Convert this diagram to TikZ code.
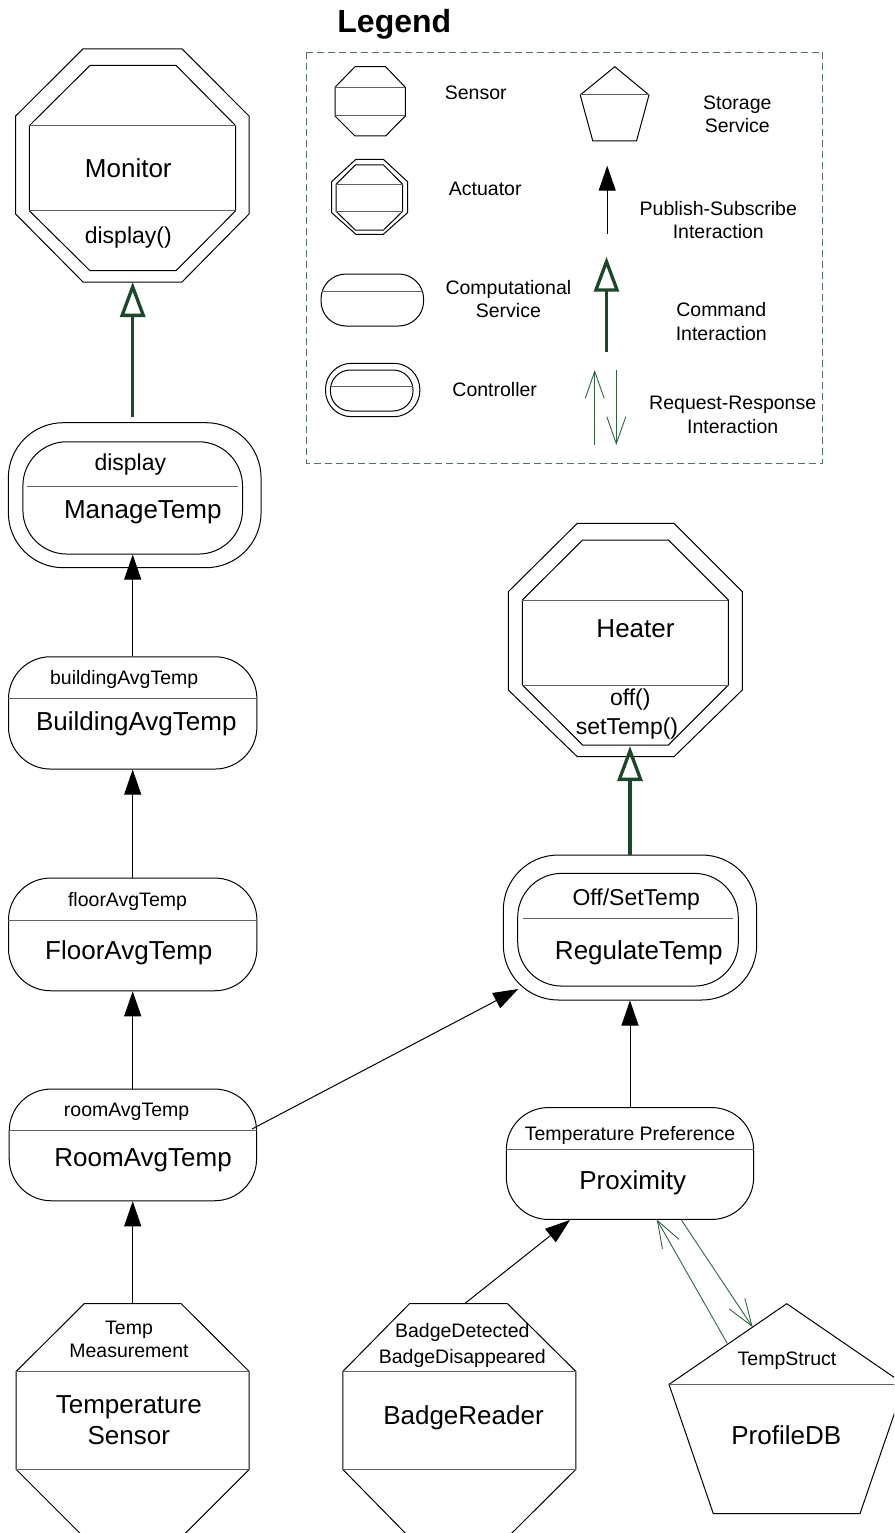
\documentclass[tikz,border=0pt]{standalone}
\usepackage{fontspec}
\setmainfont{Liberation Sans}
\usetikzlibrary{arrows.meta}
\definecolor{cmdgreen}{RGB}{28,72,42}
\definecolor{rrgreen}{RGB}{50,100,65}
\definecolor{leggreen}{RGB}{85,115,95}
\definecolor{divgray}{RGB}{95,95,95}
\begin{document}
\begin{tikzpicture}[x=1pt,y=-1pt,
  shp/.style={draw=black, line width=1pt},
  divl/.style={draw=divgray, line width=1pt},
  stad/.style={draw=black, line width=1pt, inner sep=0pt, rounded corners=42pt},
  pubarrow/.style={draw=black, line width=1pt, -{Triangle[length=25pt,width=17pt]}},
  cmdarrow/.style={draw=cmdgreen, line width=3.3pt, -{Triangle[open,length=35pt,width=25pt]}},
  rrarrow/.style={draw=rrgreen, line width=0.9pt, -{Straight Barb[length=27pt,width=19pt]}},
  bigtxt/.style={font=\fontsize{26}{30.5}\selectfont, inner sep=0pt, align=center},
  midtxt/.style={font=\fontsize{23}{28}\selectfont, inner sep=0pt, align=center},
  smalltxt/.style={font=\fontsize{19.5}{23.5}\selectfont, inner sep=0pt, align=center},
  titletxt/.style={font=\fontsize{32}{38}\selectfont\bfseries, inner sep=0pt},
  legframe/.style={draw=leggreen, line width=1pt, dash pattern=on 7pt off 4pt}
]
\useasboundingbox (0,0) rectangle (894,1533);
\clip (0,0) rectangle (894,1533);
\fill[white] (0,0) rectangle (894,1533);

% ================= Legend =================
\node[titletxt] (legTitle) at (394.3,24) {Legend};
\draw[legframe] (306.8,52.3) rectangle (822.8,463.3);

% sensor icon
\draw[shp] (355,66.7) -- (385.6,66.7) -- (405.3,87.3) -- (405.3,116) -- (385.6,136) -- (355,136) -- (335,116) -- (335,87.3) -- cycle;
\draw[divl] (335,87.3) -- (405.3,87.3);
\draw[divl] (335,116) -- (405.3,116);
\node[smalltxt] (legSensor) at (475.7,92.7) {Sensor};

% actuator icon
\draw[shp] (355.9,159.3) -- (383.3,159.3) -- (407.6,181.7) -- (407.6,212.7) -- (383.3,234.3) -- (355.9,234.3) -- (331.6,212.7) -- (331.6,181.7) -- cycle;
\draw[shp] (355.3,165) -- (383.5,165) -- (402.7,184.3) -- (402.7,211.3) -- (383.5,230) -- (355.3,230) -- (336,211.3) -- (336,184.3) -- cycle;
\draw[divl] (336,184.3) -- (402.7,184.3);
\draw[divl] (336,211.3) -- (402.7,211.3);
\node[smalltxt] (legActuator) at (485.2,189.3) {Actuator};

% computational service icon
\node[stad, rounded corners=25pt, minimum width=102.6pt, minimum height=52pt] (legComp) at (372.3,300) {};
\draw[divl] (321.5,291) -- (423.1,291);
\node[smalltxt] (legCompTxt) at (508.4,299.2) {Computational\\Service};

% controller icon
\node[stad, rounded corners=26pt, minimum width=94.3pt, minimum height=53.4pt] (legCtrlO) at (372.65,390) {};
\node[stad, rounded corners=20pt, minimum width=82.6pt, minimum height=41pt] (legCtrlI) at (371.7,390.5) {};
\draw[divl] (330.6,386.7) -- (412.8,386.7);
\node[smalltxt] (legCtrlTxt) at (494.7,389.3) {Controller};

% storage icon
\draw[shp] (614.8,66.7) -- (649,95) -- (636.5,141) -- (592.8,141) -- (580.2,95) -- cycle;
\draw[divl] (580.2,95) -- (649,95);
\node[smalltxt] (legStorTxt) at (737.3,114.2) {Storage\\Service};

% publish-subscribe
\coordinate (lpA) at (607.2,234.3);
\coordinate (lpB) at (607.2,165.7);
\draw[pubarrow] (lpA) -- (lpB);
\node[smalltxt] (legPubTxt) at (718.3,220) {Publish-Subscribe\\Interaction};

% command
\coordinate (lcA) at (606.5,351.7);
\coordinate (lcB) at (606.5,256.7);
\draw[cmdarrow] (lcA) -- (lcB);
\node[smalltxt] (legCmdTxt) at (721.3,321.3) {Command\\Interaction};

% request-response
\coordinate (lrA) at (594.7,445);
\coordinate (lrB) at (594.7,370);
\coordinate (lrC) at (616.3,370);
\coordinate (lrD) at (616.3,445);
\draw[rrarrow] (lrA) -- (lrB);
\draw[rrarrow] (lrC) -- (lrD);
\node[smalltxt] (legRRTxt) at (732.7,415) {Request-Response\\Interaction};

% ================= Monitor (actuator) =================
\draw[shp] (83,48.9) -- (182,48.9) -- (249,116) -- (249,214) -- (182,282) -- (83,282) -- (15.7,214) -- (15.7,116) -- cycle;
\draw[shp] (90,65.4) -- (176,65.4) -- (235.7,125.7) -- (235.7,210.7) -- (176,270.7) -- (90,270.7) -- (29.3,210.7) -- (29.3,125.7) -- cycle;
\draw[divl] (29.3,125.7) -- (235.7,125.7);
\draw[divl] (29.3,210.7) -- (235.7,210.7);
\node[bigtxt] (monitor) at (128.3,168) {Monitor};
\node[midtxt] (monitorOp) at (128.3,237.5) {display()};
\coordinate (monBot) at (132.7,282);

% ================= ManageTemp (controller) =================
\node[stad, rounded corners=55pt, minimum width=252.7pt, minimum height=145pt] (mgO) at (134.7,495.2) {};
\node[stad, rounded corners=44pt, minimum width=219.6pt, minimum height=112.3pt] (mgI) at (132.7,497.9) {};
\draw[divl] (27.3,486) -- (237.9,486);
\node[midtxt] (mgEv) at (130.3,465) {display};
\node[bigtxt] (mgName) at (142.8,512.7) {ManageTemp};
\coordinate (mgTop) at (132.7,417);

% ================= BuildingAvgTemp =================
\node[stad, minimum width=248.4pt, minimum height=112.3pt] (bat) at (132.7,712.9) {};
\draw[divl] (bat.west |- 0,698.3) -- (bat.east |- 0,698.3);
\node[smalltxt] (batEv) at (124.2,679) {buildingAvgTemp};
\node[bigtxt] (batName) at (136.3,723.3) {BuildingAvgTemp};

% ================= FloorAvgTemp =================
\node[stad, minimum width=248.4pt, minimum height=112.7pt] (fat) at (132.7,934.4) {};
\draw[divl] (fat.west |- 0,920) -- (fat.east |- 0,920);
\node[smalltxt] (fatEv) at (127.5,901.7) {floorAvgTemp};
\node[bigtxt] (fatName) at (128.8,953) {FloorAvgTemp};

% ================= RoomAvgTemp =================
\node[stad, minimum width=247.4pt, minimum height=111.7pt] (rat) at (132.9,1144.9) {};
\draw[divl] (rat.west |- 0,1130) -- (rat.east |- 0,1130);
\node[smalltxt] (ratEv) at (126.6,1112) {roomAvgTemp};
\node[bigtxt] (ratName) at (143.1,1160.5) {RoomAvgTemp};
\coordinate (ratNE) at (252,1129);

% ================= Temperature Sensor =================
\draw[shp] (84.2,1303.7) -- (181.2,1303.7) -- (249.2,1371.4) -- (249.2,1469.4) -- (181.2,1537.4) -- (84.2,1537.4) -- (16.2,1469.4) -- (16.2,1371.4) -- cycle;
\draw[divl] (16.2,1371.4) -- (249.2,1371.4);
\draw[divl] (16.2,1469.4) -- (249.2,1469.4);
\node[smalltxt] (tsEv) at (129,1339.5) {Temp\\Measurement};
\node[bigtxt] (tsName) at (128.8,1420.1) {Temperature\\Sensor};
\coordinate (tsTop) at (132.7,1303.7);

% ================= BadgeReader =================
\draw[shp] (409.5,1303.7) -- (507.5,1303.7) -- (575.8,1371.4) -- (575.8,1469.4) -- (507.5,1537.4) -- (409.5,1537.4) -- (342.8,1469.4) -- (342.8,1371.4) -- cycle;
\draw[divl] (342.8,1371.4) -- (575.8,1371.4);
\draw[divl] (342.8,1469.4) -- (575.8,1469.4);
\node[smalltxt, font=\fontsize{19.5}{26}\selectfont] (brEv) at (462.3,1345.7) {BadgeDetected\\BadgeDisappeared};
\node[bigtxt] (brName) at (463.5,1417.7) {BadgeReader};
\coordinate (brTop) at (464.6,1303.7);

% ================= Heater (actuator) =================
\draw[shp] (577.3,523.3) -- (674,523.3) -- (742.3,591.7) -- (742.3,690) -- (674,756.7) -- (577.3,756.7) -- (508.3,690) -- (508.3,591.7) -- cycle;
\draw[shp] (582.7,540) -- (668.3,540) -- (728.3,600) -- (728.3,685) -- (668.3,745) -- (582.7,745) -- (522.3,685) -- (522.3,600) -- cycle;
\draw[divl] (522.3,600) -- (728.3,600);
\draw[divl] (522.3,685) -- (728.3,685);
\node[bigtxt] (heater) at (635.5,628.3) {Heater};
\node[midtxt] (heaterOp1) at (630.3,700) {off()};
\node[midtxt] (heaterOp2) at (627,728.3) {setTemp()};
\coordinate (heatBot) at (630,746);

% ================= RegulateTemp (controller) =================
\node[stad, rounded corners=55pt, minimum width=253.4pt, minimum height=145pt] (rgO) at (630,927.5) {};
\node[stad, rounded corners=44pt, minimum width=220.6pt, minimum height=112.7pt] (rgI) at (628,929.7) {};
\draw[divl] (522.7,918.3) -- (732.9,918.3);
\node[midtxt] (rgEv) at (636.2,899.3) {Off/SetTemp};
\node[bigtxt] (rgName) at (638.8,952.7) {RegulateTemp};
\coordinate (rgTop) at (630,855);
\coordinate (rgSW) at (518.3,989);

% ================= Proximity =================
\node[stad, minimum width=247.3pt, minimum height=111.9pt] (prox) at (630,1163.5) {};
\draw[divl] (prox.west |- 0,1149) -- (prox.east |- 0,1149);
\node[smalltxt] (proxEv) at (630,1135.4) {Temperature Preference};
\node[bigtxt] (proxName) at (632.7,1183) {Proximity};
\coordinate (proxBL) at (570,1220);
\coordinate (proxB1) at (656.7,1219.4);
\coordinate (proxB2) at (681,1219.4);

% ================= ProfileDB (storage) =================
\draw[shp] (786.7,1303.7) -- (904.4,1384.4) -- (860,1513.6) -- (713.3,1513.6) -- (669,1384.4) -- cycle;
\draw[divl] (669,1384.4) -- (904.4,1384.4);
\node[smalltxt] (pdbEv) at (787,1361) {TempStruct};
\node[bigtxt] (pdbName) at (786.3,1435.4) {ProfileDB};
\coordinate (pdbL1) at (727.3,1343.5);
\coordinate (pdbL2) at (752.7,1327.2);

% ================= Connectors =================
\draw[cmdarrow] (mgTop) -- (monBot);
\draw[pubarrow] (bat.north) -- (mgI.south);
\draw[pubarrow] (fat.north) -- (bat.south);
\draw[pubarrow] (rat.north -| fat.south) -- (fat.south);
\draw[pubarrow] (tsTop) -- (tsTop |- rat.south);
\draw[pubarrow] (ratNE) -- (rgSW);
\draw[cmdarrow] (rgTop) -- (heatBot);
\draw[pubarrow] (prox.north) -- (rgO.south);
\draw[pubarrow] (brTop) -- (proxBL);
\draw[rrarrow] (pdbL1) -- (proxB1);
\draw[rrarrow] (proxB2) -- (pdbL2);
\end{tikzpicture}
\end{document}
